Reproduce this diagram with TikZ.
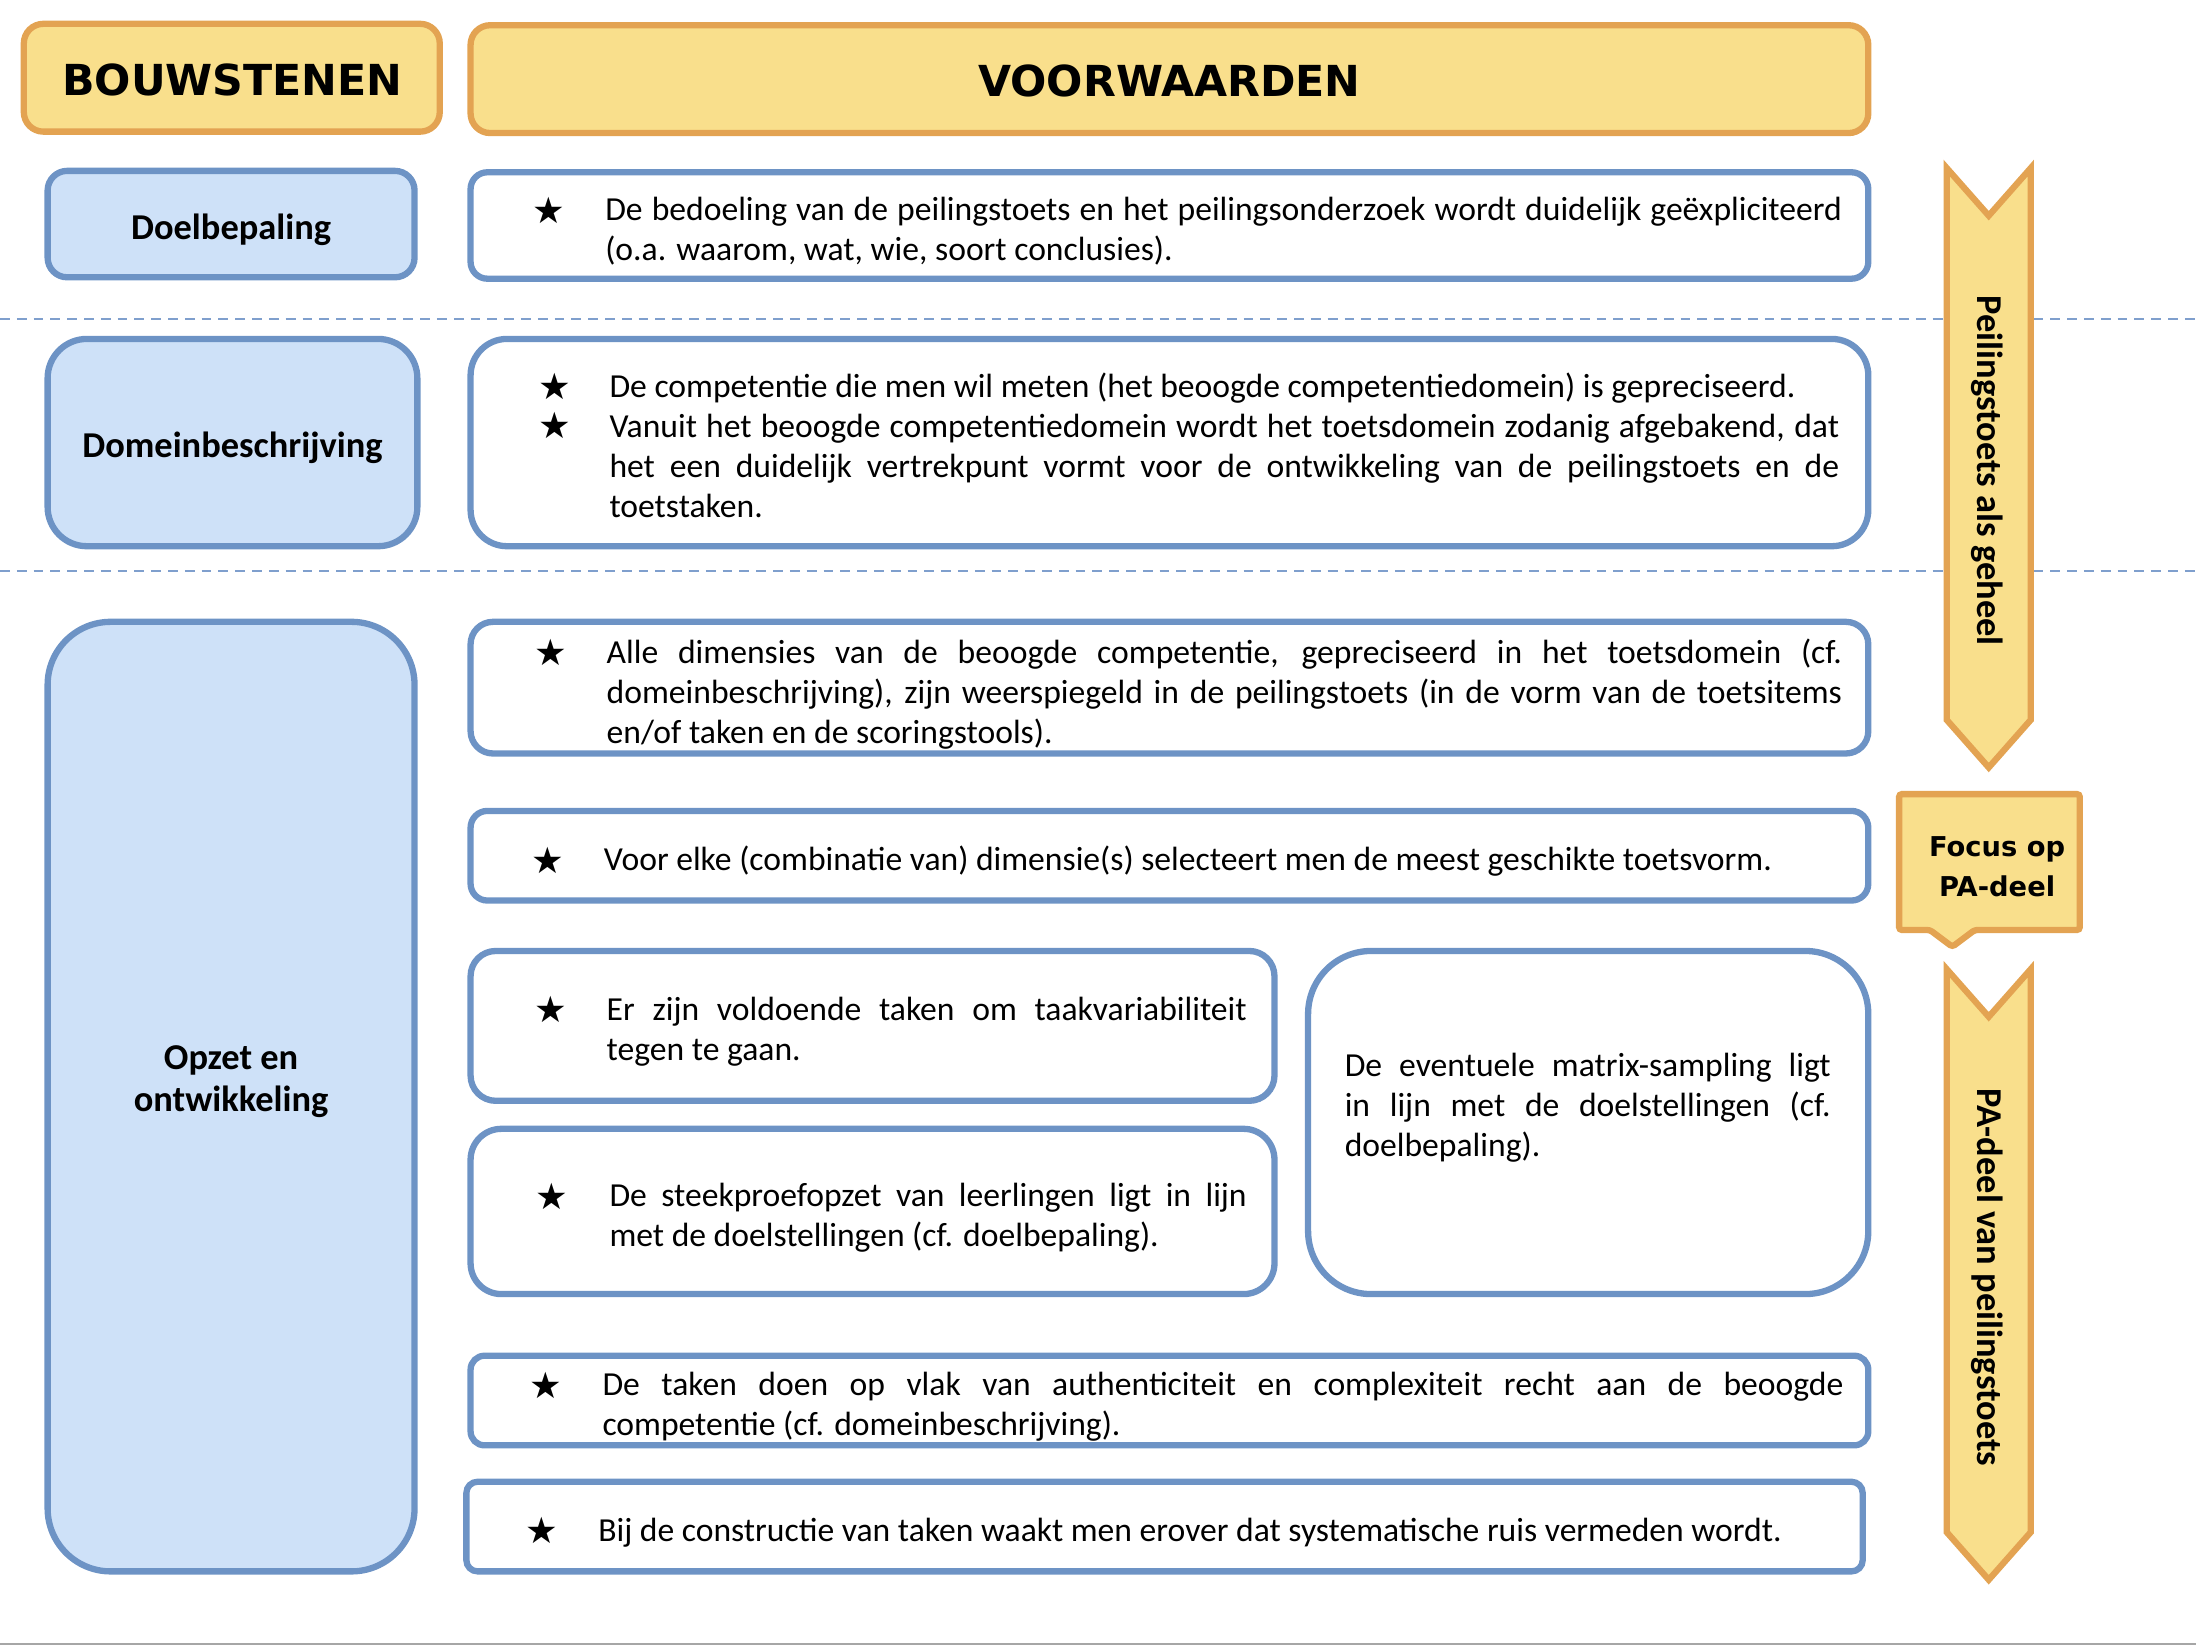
\documentclass[tikz,border=0pt]{standalone}
\usepackage{fontspec}
\setmainfont{Carlito}
\newfontfamily\headfont{DejaVu Sans}
\newfontfamily\symfont{DejaVu Sans}
\definecolor{yfill}{HTML}{F9DF8C}
\definecolor{oborder}{HTML}{E3A352}
\definecolor{bfill}{HTML}{CEE1F8}
\definecolor{bborder}{HTML}{6D93C5}
\definecolor{dashcol}{HTML}{7F9FCD}
\newcommand{\nohyph}{\hyphenpenalty=10000\relax\exhyphenpenalty=10000\relax}
\begin{document}
\begin{tikzpicture}[x=1pt,y=-1pt,
  hdr/.style={draw=oborder, fill=yfill, line width=4.5pt, rounded corners=14pt, inner sep=0pt},
  lbox/.style={draw=bborder, fill=bfill, line width=4.5pt, inner sep=0pt},
  rbox/.style={draw=bborder, fill=white, line width=4.5pt, inner sep=0pt},
  hdrtext/.style={font=\headfont\bfseries\fontsize{30.5}{36}\selectfont},
  lbl/.style={font=\bfseries\fontsize{26}{30}\selectfont, align=center, inner sep=0pt},
  txt/.style={font=\fontsize{24}{28.5}\selectfont\nohyph,
              text width=#1, align=justify, inner sep=0pt, anchor=north west},
  starmark/.style={font=\symfont\fontsize{26}{30}\selectfont, inner sep=0pt},
  divider/.style={draw=dashcol, line width=1.5pt, dash pattern=on 7pt off 5pt},
  chev/.style={draw=oborder, fill=yfill, line width=4.5pt},
  vtext/.style={font=\bfseries\fontsize{26}{30}\selectfont, rotate=-90, inner sep=0pt}
]
\path[use as bounding box] (0,0) rectangle (1568,1175);

% dashed dividers
\coordinate (d1a) at (0,228);
\coordinate (d1b) at (1568,228);
\coordinate (d2a) at (0,408);
\coordinate (d2b) at (1568,408);
\draw[divider] (d1a) -- (d1b);
\draw[divider] (d2a) -- (d2b);

% bottom rule
\coordinate (ba) at (0,1174);
\coordinate (bb) at (1568,1174);
\draw[gray!70, line width=1.5pt] (ba) -- (bb);

% headers
\node[hdr, minimum width=297pt, minimum height=77pt] (bouw) at (165.5,55.5) {};
\node[hdrtext] (bouwt) at (166,57) {BOUWSTENEN};
\node[hdr, minimum width=998pt, minimum height=77pt] (voor) at (835,56.5) {};
\node[hdrtext] (voort) at (835,58) {VOORWAARDEN};

% left blocks
\node[lbox, rounded corners=14pt, minimum width=262pt, minimum height=76pt] (doel) at (165,160) {};
\node[lbl] (doelt) at (165,164) {Doelbepaling};
\node[lbox, rounded corners=28pt, minimum width=264pt, minimum height=148pt] (dom) at (166,316) {};
\node[lbl] (domt) at (166,320) {Domeinbeschrijving};
\node[lbox, rounded corners=45pt, minimum width=262pt, minimum height=678pt] (opz) at (165,783) {};
\node[lbl] (opzt) at (165,772) {Opzet en\\ontwikkeling};

% right boxes
\node[rbox, rounded corners=12pt, minimum width=998pt, minimum height=76pt] (v1) at (835,161) {};
\node[rbox, rounded corners=26pt, minimum width=998pt, minimum height=148pt] (v2) at (835,316) {};
\node[rbox, rounded corners=16pt, minimum width=998pt, minimum height=94pt] (v3) at (835,491) {};
\node[rbox, rounded corners=12pt, minimum width=998pt, minimum height=64pt] (v4) at (835,611) {};
\node[rbox, rounded corners=18pt, minimum width=574pt, minimum height=107pt] (v5) at (623,732.5) {};
\node[rbox, rounded corners=22pt, minimum width=574pt, minimum height=118pt] (v6) at (623,865) {};
\node[rbox, rounded corners=45pt, minimum width=400pt, minimum height=245pt] (v7) at (1134,801.5) {};
\node[rbox, rounded corners=10pt, minimum width=998pt, minimum height=64pt] (v8) at (835,1000) {};
\node[rbox, rounded corners=8pt, minimum width=997pt, minimum height=64pt] (v9) at (831.5,1090) {};

% stars
\node[starmark] (s1) at (392,150) {★};
\node[starmark] (s2a) at (396,276) {★};
\node[starmark] (s2b) at (396,304) {★};
\node[starmark] (s3) at (393,466) {★};
\node[starmark] (s4) at (391,614) {★};
\node[starmark] (s5) at (393,721) {★};
\node[starmark] (s6) at (394,854) {★};
\node[starmark] (s8) at (390,989) {★};
\node[starmark] (s9) at (387,1093) {★};

% texts
\node[txt=883pt] (t1) at (432,137.6) {\strut De bedoeling van de peilingstoets en het peilingsonderzoek wordt duidelijk geëxpliciteerd\linebreak (o.a. waarom, wat, wie, soort conclusies).};
\node[txt=878pt] (t2) at (435,263.6) {\strut De competentie die men wil meten (het beoogde competentiedomein) is gepreciseerd.\par
\strut Vanuit het beoogde competentiedomein wordt het toetsdomein zodanig afgebakend, dat\linebreak het een duidelijk vertrekpunt vormt voor de ontwikkeling van de peilingstoets en de\linebreak toetstaken.};
\node[txt=882pt] (t3) at (433,453.6) {\strut Alle dimensies van de beoogde competentie, gepreciseerd in het toetsdomein (cf.\linebreak domeinbeschrijving), zijn weerspiegeld in de peilingstoets (in de vorm van de toetsitems\linebreak en/of taken en de scoringstools).};
\node[txt=882pt] (t4) at (431,601.6) {\strut Voor elke (combinatie van) dimensie(s) selecteert men de meest geschikte toetsvorm.};
\node[txt=457pt] (t5) at (433,708.6) {\strut Er zijn voldoende taken om taakvariabiliteit\linebreak tegen te gaan.};
\node[txt=455pt] (t6) at (435,841.6) {\strut De steekproefopzet van leerlingen ligt in lijn\linebreak met de doelstellingen (cf. doelbepaling).};
\node[txt=347pt] (t7) at (960,748.6) {\strut De eventuele matrix-sampling ligt\linebreak in lijn met de doelstellingen (cf.\linebreak doelbepaling).};
\node[txt=886pt] (t8) at (430,976.6) {\strut De taken doen op vlak van authenticiteit en complexiteit recht aan de beoogde\linebreak competentie (cf. domeinbeschrijving).};
\node[txt=900pt] (t9) at (427,1080.6) {\strut Bij de constructie van taken waakt men erover dat systematische ruis vermeden wordt.};

% chevron arrows
\draw[chev] (1390,120) -- (1420,154) -- (1450,120) -- (1450,514) -- (1420,548) -- (1390,514) -- cycle;
\node[vtext] (a1t) at (1419,336) {Peilingstoets als geheel};
\draw[chev] (1390,692) -- (1420,726) -- (1450,692) -- (1450,1094) -- (1420,1128) -- (1390,1094) -- cycle;
\node[vtext] (a2t) at (1419,912) {PA-deel van peilingstoets};

% focus callout
\draw[chev, rounded corners=2pt] (1356,567) -- (1485,567) -- (1485,664) -- (1410,664) -- (1394,676) -- (1378,664) -- (1356,664) -- cycle;
\node[font=\headfont\bfseries\fontsize{19.5}{29}\selectfont, align=center, inner sep=0pt] (focus) at (1426,619) {Focus op\\PA-deel};
\end{tikzpicture}
\end{document}
